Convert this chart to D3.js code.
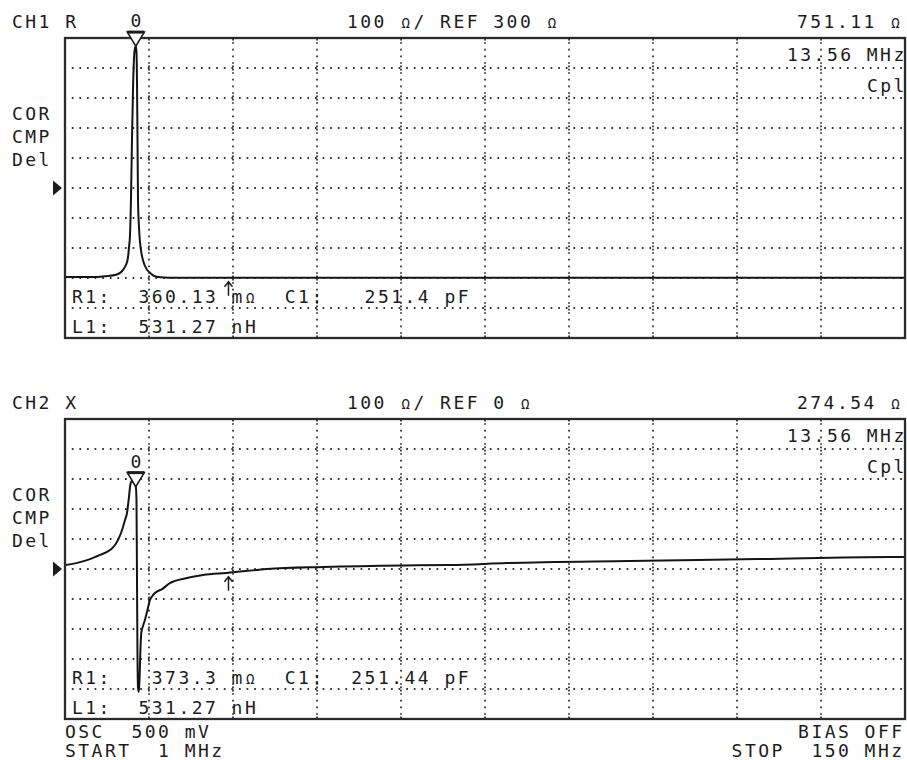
<!DOCTYPE html>
<html>
<head>
<meta charset="utf-8">
<script src="https://cdn.jsdelivr.net/npm/d3@7"></script>
<style>
  html, body { margin: 0; padding: 0; background: #fff; }
  svg { display: block; }
  text { white-space: pre; }
</style>
</head>
<body>
<svg id="chart" width="907" height="760"></svg>
<script>
// ---------------- DATA ----------------
const sweep = [1, 150];                 // START / STOP, MHz
const channelNames = ["CH1", "CH2"];
const paramNames = ["R", "X"];
const scaleLabels = ["100 Ω/ REF 300 Ω", "100 Ω/ REF 0 Ω"];
const refValues = [300, 0];             // Ω at reference line
const perDiv = [100, 100];              // Ω per division
const markerFreq = 13.56;               // MHz
const markerReadouts = ["751.11 Ω", "274.54 Ω"];
const markerFreqLabel = "13.56 MHz";
const modeLabel = "Cpl";
const statusLabels = ["COR", "CMP", "Del"];
const subMarkerFreq = 30;               // MHz (↑ sub-marker)
const r1Values = ["360.13", "373.3"];
const c1Values = ["251.4", "251.44"];
const l1Values = ["531.27", "531.27"];
const footerLeft = ["OSC  500 mV", "START  1 MHz"];
const footerRight = ["BIAS OFF", "STOP  150 MHz"];

// CH1: R (Ω) vs frequency (MHz)
const freqR = [1.0, 6.7, 8.6, 9.87, 10.76, 11.29, 11.64, 12.0, 12.18, 12.35, 12.53, 12.7, 12.88, 13.06, 13.24, 13.42, 13.56,
               13.68, 13.77, 13.86, 13.95, 14.13, 14.3, 14.66, 15.19, 16.08, 17.5, 19.6, 60, 100, 150];
const valR  = [3, 3, 7, 10, 17, 27, 37, 53, 70, 103, 143, 260, 460, 627, 733, 767, 773,
               753, 660, 460, 260, 167, 120, 73, 40, 17, 3, 1, 1, 1, 1];

// CH2: X (Ω) vs frequency (MHz)
const freqX = [1.0, 3.66, 5.43, 7.21, 8.98, 9.87, 10.4, 10.93, 11.29, 11.64, 12.0, 12.18, 12.35, 12.53, 12.8, 13.1, 13.56,
               13.68, 13.76, 13.84, 13.95, 14.08, 14.22, 14.36, 14.55, 14.84, 15.2, 15.55, 16.08, 16.5, 16.96, 18.3,
               19.6, 22.6, 25.5, 29.7, 36.8, 46.8, 61, 69.3, 79.4, 101.2, 123.9, 147.3, 150];
const valX  = [13, 23, 33, 47, 63, 80, 97, 120, 140, 163, 187, 213, 240, 273, 293, 290, 274.54,
               230, 0, -250, -395, -410, -370, -280, -210, -190, -168, -143, -103, -90, -80, -66,
               -47, -30, -20, -13, 0, 7, 12, 13, 20, 27, 33, 40, 40];

const traces = [[freqR, valR], [freqX, valX]];

// ---------------- LAYOUT ----------------
const svg = d3.select("#chart");
const FS = 18, P = 13.3, GLYPH = 10.8;
const INK = "#1c1c1c";
const left = 65, right = 905;
const panelTops = [38, 419];
const panelH = 300;

function mono(g, str, x0, y) {
  const t = g.append("text").attr("y", y)
    .attr("font-family", "DejaVu Sans Mono, Liberation Mono, monospace")
    .attr("font-size", FS).attr("fill", INK);
  [...str].forEach((ch, i) => {
    const s = t.append("tspan").attr("x", x0 + i * P).text(ch);
    if (ch === "Ω") s.attr("font-size", 14).attr("x", x0 + i * P + 1.2);
  });
  return t;
}
function monoR(g, str, xr, y) {
  return mono(g, str, xr - ([...str].length - 1) * P - GLYPH, y);
}

const x = d3.scaleLinear().domain(sweep).range([left, right]);

panelTops.forEach((top, c) => {
  const g = svg.append("g");
  const bottom = top + panelH;
  const y = d3.scaleLinear()
    .domain([refValues[c] - 5 * perDiv[c], refValues[c] + 5 * perDiv[c]])
    .range([bottom, top]);

  const clipId = "clip" + c;
  svg.append("clipPath").attr("id", clipId)
    .append("rect").attr("x", left).attr("y", top).attr("width", right - left).attr("height", panelH);

  // grid: horizontal
  const hVals = d3.range(1, 10).map(k => refValues[c] + (k - 5) * perDiv[c]);
  g.selectAll(".hg").data(hVals).join("line")
    .attr("x1", left + 6.8).attr("x2", right)
    .attr("y1", d => y(d)).attr("y2", d => y(d))
    .attr("stroke", "#333").attr("stroke-width", 1.8)
    .attr("stroke-dasharray", "1.7 5.9");
  // grid: vertical
  const vVals = d3.range(1, 10).map(k => sweep[0] + k * (sweep[1] - sweep[0]) / 10);
  g.selectAll(".vg").data(vVals).join("line")
    .attr("x1", d => x(d)).attr("x2", d => x(d))
    .attr("y1", top).attr("y2", bottom)
    .attr("stroke", "#333").attr("stroke-width", 1.8)
    .attr("stroke-dasharray", "0 0.87 1.6 1.73 1.6 5.07 1.6 5.06 1.6 5.07 1.6 1.73 1.6 0.87");

  // trace
  const [fs, vs] = traces[c];
  const pts = fs.map((f, i) => [f, vs[i]]);
  g.append("path").datum(pts)
    .attr("clip-path", `url(#${clipId})`)
    .attr("d", d3.line().curve(d3.curveMonotoneX).x(d => x(d[0])).y(d => y(d[1])))
    .attr("fill", "none").attr("stroke", "#141414").attr("stroke-width", 2)
    .attr("stroke-linejoin", "round");

  // frame
  g.append("rect").attr("x", left).attr("y", top).attr("width", right - left).attr("height", panelH)
    .attr("fill", "none").attr("stroke", "#2a2a2a").attr("stroke-width", 2.3);

  // reference-line pointer ▶
  const ry = y(refValues[c]);
  g.append("path").attr("d", `M53,${ry - 7.5} L62,${ry} L53,${ry + 7.5} Z`).attr("fill", INK);

  // marker ▽ with number
  const interp = d3.scaleLinear().domain(fs).range(vs);
  const mx = x(markerFreq), my = y(interp(markerFreq));
  g.append("path").attr("d", `M${mx - 8.5},${my - 14} L${mx + 8.5},${my - 14} L${mx},${my} Z`)
    .attr("fill", "#fff").attr("stroke", INK).attr("stroke-width", 1.6).attr("stroke-linejoin", "miter");
  g.append("line").attr("x1", mx - 8.5).attr("x2", mx + 8.5).attr("y1", my - 14).attr("y2", my - 14)
    .attr("stroke", INK).attr("stroke-width", 3);
  mono(g, "0", mx - GLYPH / 2, my - 19);

  // sub-marker ↑
  const sx = x(subMarkerFreq), sy = y(interp(subMarkerFreq)) + 4;
  g.append("path").attr("d", `M${sx},${sy + 14} L${sx},${sy} M${sx - 4},${sy + 5} L${sx},${sy} L${sx + 4},${sy + 5}`)
    .attr("fill", "none").attr("stroke", INK).attr("stroke-width", 1.5);

  // header
  mono(g, channelNames[c] + " " + paramNames[c], 12, top - 10);
  mono(g, scaleLabels[c], 347, top - 10);
  mono(g, markerReadouts[c], 797, top - 10);
  mono(g, markerFreqLabel, 787, top + 22.5);
  mono(g, modeLabel, 867, top + 53.5);
  statusLabels.forEach((s, i) => mono(g, s, 12, top + 82 + i * 23));

  // readout rows
  const row1 = "R1:" + r1Values[c].padStart(8) + " mΩ  C1:" + c1Values[c].padStart(8) + " pF";
  const row2 = "L1:" + l1Values[c].padStart(8) + " nH";
  mono(g, row1, 72, top + 265);
  mono(g, row2, 72, top + 295);
});

// footer
mono(svg, footerLeft[0], 65, 738);
mono(svg, footerLeft[1], 65, 757);
monoR(svg, footerRight[0], 902, 738);
monoR(svg, footerRight[1], 902, 757);
</script>
</body>
</html>
